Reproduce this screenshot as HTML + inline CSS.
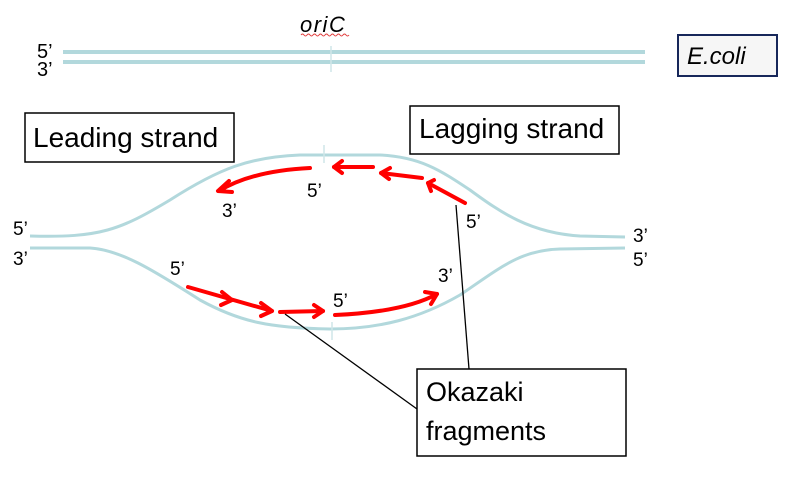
<!DOCTYPE html>
<html><head><meta charset="utf-8"><style>
html,body{margin:0;padding:0;background:#fff;}
svg{display:block;}
text{font-family:"Liberation Sans",Arial,sans-serif;fill:#000;}
</style></head><body>
<svg width="793" height="483" viewBox="0 0 793 483" xmlns="http://www.w3.org/2000/svg">
<rect width="793" height="483" fill="#fff"/>
<!-- top linear DNA -->
<line x1="63" y1="52" x2="645" y2="52" stroke="#b2d8dc" stroke-width="4"/>
<line x1="63" y1="62" x2="645" y2="62" stroke="#b2d8dc" stroke-width="4"/>
<line x1="331" y1="46" x2="331" y2="72" stroke="#cfe6e8" stroke-width="1.5"/>
<text x="300" y="32" font-size="22" font-style="italic" letter-spacing="1.5" fill="#222">oriC</text>
<path d="M301,35 q1.5,-2 3,0 t3,0 t3,0 t3,0 t3,0 t3,0 t3,0 t3,0 t3,0 t3,0 t3,0 t3,0 t3,0 t3,0 t3,0 t3,0" fill="none" stroke="#e23a3a" stroke-width="1"/>
<text x="37" y="58" font-size="20">5’</text>
<text x="37" y="76" font-size="20">3’</text>
<!-- E.coli box -->
<rect x="678" y="35" width="99" height="41" fill="#f6f6f6" stroke="#17275a" stroke-width="2"/>
<text x="687" y="64" font-size="24" font-style="italic" fill="#111">E.coli</text>
<!-- Leading / Lagging boxes -->
<rect x="25" y="113" width="209" height="49" fill="#fff" stroke="#000" stroke-width="1.5"/>
<text x="33" y="147" font-size="28">Leading strand</text>
<rect x="410" y="106" width="209" height="48" fill="#fff" stroke="#000" stroke-width="1.5"/>
<text x="419" y="138" font-size="28">Lagging strand</text>
<!-- bubble strands -->
<path d="M30,236 C100,238 120,230 170,200 C220,168 250,157 300,155 L380,155 C420,157 440,170 470,190 C500,212 530,233 580,236 L625,237" fill="none" stroke="#b2d8dc" stroke-width="3"/>
<path d="M30,248 L90,248 C120,250 150,268 200,300 C240,322 270,328 330,329 C380,329 420,318 460,295 C500,268 520,250 560,249 L625,248" fill="none" stroke="#b2d8dc" stroke-width="3"/>
<line x1="324" y1="145" x2="324" y2="163" stroke="#cfe6e8" stroke-width="1.5"/>
<line x1="332" y1="322" x2="332" y2="340" stroke="#cfe6e8" stroke-width="1.5"/>
<!-- red arrows top -->
<g fill="none" stroke="#ff0000" stroke-width="4" stroke-linecap="round" stroke-linejoin="round">
<path d="M310,168 C270,170 240,178 219,191"/>
<path d="M229,181 L218,191 L232,192"/>
<path d="M373,167 L334,167"/>
<path d="M342,161 L334,167 L342,173"/>
<path d="M422,178 L381,173"/>
<path d="M390,168 L381,173 L389,179"/>
<path d="M465,203 L428,183"/>
<path d="M434,180 L428,183 L431,191"/>
<!-- bottom -->
<path d="M188,287 L272,311"/>
<path d="M222,292 L232,300 L221,305"/>
<path d="M261,303 L272,311 L261,316"/>
<path d="M280,312 L323,311"/>
<path d="M314,305 L323,311 L314,317"/>
<path d="M335,315 C380,313 415,306 437,294"/>
<path d="M425,292 L437,294 L431,304"/>
</g>
<!-- connector lines -->
<line x1="285" y1="314" x2="417" y2="409" stroke="#000" stroke-width="1.3"/>
<line x1="456" y1="205" x2="469" y2="369" stroke="#000" stroke-width="1.3"/>
<!-- Okazaki box -->
<rect x="417" y="369" width="209" height="87" fill="#fff" stroke="#000" stroke-width="1.5"/>
<text x="426" y="401" font-size="27">Okazaki</text>
<text x="426" y="440" font-size="27">fragments</text>
<!-- small labels -->
<text x="13" y="235" font-size="19">5’</text>
<text x="13" y="265" font-size="19">3’</text>
<text x="633" y="242" font-size="19">3’</text>
<text x="633" y="266" font-size="19">5’</text>
<text x="222" y="217" font-size="19">3’</text>
<text x="307" y="197" font-size="19">5’</text>
<text x="466" y="228" font-size="19">5’</text>
<text x="170" y="275" font-size="19">5’</text>
<text x="333" y="307" font-size="19">5’</text>
<text x="438" y="282" font-size="19">3’</text>
</svg>
</body></html>
